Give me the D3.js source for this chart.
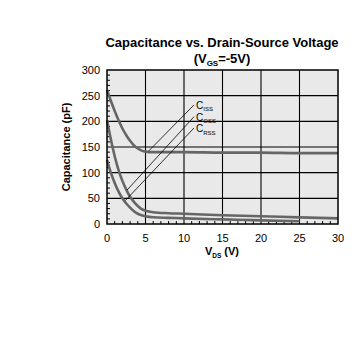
<!DOCTYPE html>
<html><head><meta charset="utf-8">
<script src="https://cdn.jsdelivr.net/npm/d3@7"></script>
<style>body{margin:0;background:#fff}svg{display:block}text{font-family:"Liberation Sans",Arial,Helvetica,sans-serif}</style>
</head><body>
<script>
// Data
const vdsCiss = [0,0.5,1,1.5,2,2.5,3,3.5,4,4.5,5,6,8,10,15,20,25,30];
const ciss    = [261,240,220,202,186,173,162,153,147,143,141,140,140,140,139,139,138,138];
const vdsCoss = [0,0.5,1,1.5,2,2.5,3,3.5,4,4.5,5,6,8,10,15,20,25,30];
const coss    = [202,165,132,105,84,67,53,43,35,29,26,23,21,20,17,15,13,11];
const vdsCrss = [0,0.5,1,1.5,2,2.5,3,3.5,4,4.5,5,6,8,10,15,20,25];
const crss    = [125,100,80,63,50,40,32,25,20,17,15,13,12,11,9,7,5.5];
const xTicks = [0,5,10,15,20,25,30];
const yTicks = [0,50,100,150,200,250,300];
const seriesNames = ["ISS","OSS","RSS"];
// leader lines: [labelV, labelC, curveV, curveC]
const leaders = [[11.3,232,5.4,142],[11.3,209,2.6,66],[11.3,187,2.4,46]];

const W=363,H=342;
const svg=d3.select("body").append("svg").attr("width",W).attr("height",H);
const x=d3.scaleLinear().domain([0,30]).range([107,338]);
const y=d3.scaleLinear().domain([0,300]).range([224,70]);

// background
svg.append("rect").attr("x",x(0)).attr("y",y(300)).attr("width",x(30)-x(0)).attr("height",y(0)-y(300)).attr("fill","#e9e9e9");

// grid
const g=svg.append("g");
g.selectAll(".vg").data(xTicks.slice(1,-1)).join("line").attr("x1",d=>x(d)).attr("x2",d=>x(d)).attr("y1",y(0)).attr("y2",y(300)).attr("stroke","#000").attr("stroke-width",1.1);
g.selectAll(".hg").data(yTicks.slice(1,-1)).join("line").attr("y1",d=>y(d)).attr("y2",d=>y(d)).attr("x1",x(0)).attr("x2",x(30)).attr("stroke","#000").attr("stroke-width",1.1);

// minor ticks
const xMinor=d3.range(0,31,1).filter(v=>v%5!==0);
const yMinor=d3.range(0,301,10).filter(v=>v%50!==0);
g.selectAll(".xm").data(xMinor).join("line").attr("x1",d=>x(d)).attr("x2",d=>x(d)).attr("y1",y(0)).attr("y2",y(0)-3).attr("stroke","#000").attr("stroke-width",1);
g.selectAll(".ym").data(yMinor).join("line").attr("y1",d=>y(d)).attr("y2",d=>y(d)).attr("x1",x(0)).attr("x2",x(0)+3).attr("stroke","#000").attr("stroke-width",1);

// curves
const line=d3.line().x(d=>x(d[0])).y(d=>y(d[1])).curve(d3.curveMonotoneX);
[[vdsCiss,ciss],[vdsCoss,coss],[vdsCrss,crss]].forEach(([vs,cs])=>{
  svg.append("path").attr("d",line(vs.map((v,i)=>[v,cs[i]]))).attr("fill","none").attr("stroke","#666").attr("stroke-width",2.6);
});

// leaders
svg.selectAll(".ld").data(leaders).join("line").attr("x1",d=>x(d[0])).attr("y1",d=>y(d[1])).attr("x2",d=>x(d[2])).attr("y2",d=>y(d[3])).attr("stroke","#000").attr("stroke-width",0.8);

// labels
seriesNames.forEach((s,i)=>{
  const t=svg.append("text").attr("x",x(leaders[i][0])+2).attr("y",y(leaders[i][1])+4).attr("font-size",10).attr("fill","#000");
  t.append("tspan").text("C");
  t.append("tspan").attr("font-size",6).attr("dy",2.5).text(s);
});

// border
svg.append("rect").attr("x",x(0)).attr("y",y(300)).attr("width",x(30)-x(0)).attr("height",y(0)-y(300)).attr("fill","none").attr("stroke","#000").attr("stroke-width",1.5);

// axes tick labels
svg.selectAll(".xl").data(xTicks).join("text").attr("x",d=>x(d)).attr("y",y(0)+18).attr("text-anchor","middle").attr("font-size",11).text(d=>d);
svg.selectAll(".yl").data(yTicks).join("text").attr("x",x(0)-7).attr("y",d=>y(d)+4).attr("text-anchor","end").attr("font-size",11).text(d=>d);

// axis titles
const xt=svg.append("text").attr("x",222).attr("y",255).attr("text-anchor","middle").attr("font-size",11).attr("font-weight","bold");
xt.append("tspan").text("V");
xt.append("tspan").attr("font-size",6.5).attr("dy",2.5).text("DS");
xt.append("tspan").attr("dy",-2.5).text(" (V)");
svg.append("text").attr("transform","translate(70,147) rotate(-90)").attr("text-anchor","middle").attr("font-size",11).attr("font-weight","bold").text("Capacitance (pF)");

// title
svg.append("text").attr("x",222).attr("y",47).attr("text-anchor","middle").attr("font-size",13).attr("font-weight","bold").text("Capacitance vs. Drain-Source Voltage");
const t2=svg.append("text").attr("x",222).attr("y",63).attr("text-anchor","middle").attr("font-size",13).attr("font-weight","bold");
t2.append("tspan").text("(V");
t2.append("tspan").attr("font-size",8).attr("dy",2.5).text("GS");
t2.append("tspan").attr("dy",-2.5).text("=-5V)");
</script>
</body></html>
